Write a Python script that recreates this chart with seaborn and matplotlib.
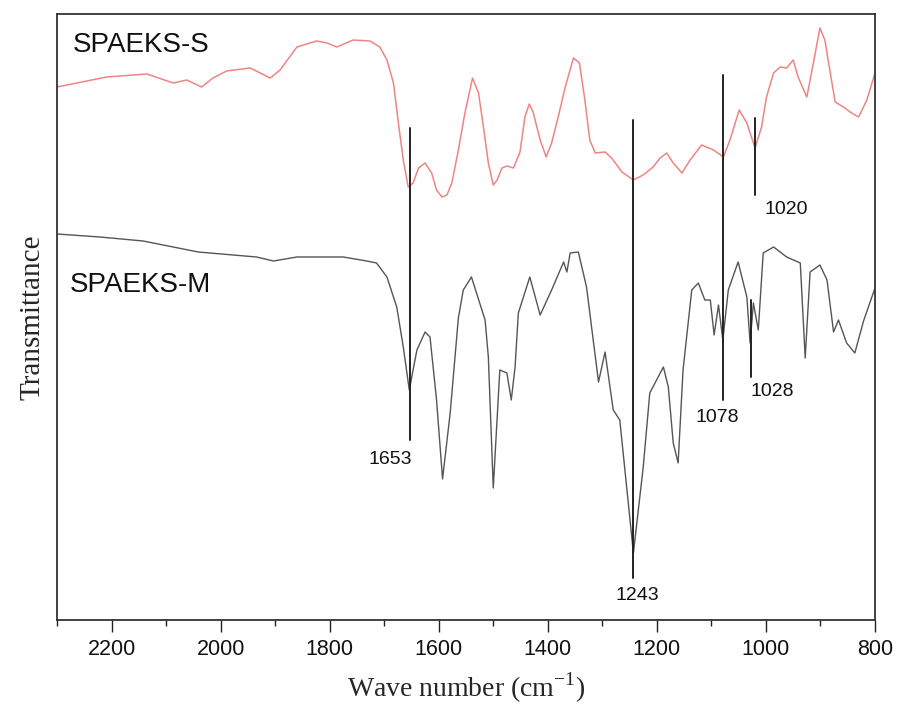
import numpy as np
import pandas as pd
import matplotlib
matplotlib.use("Agg")
import matplotlib.pyplot as plt
import seaborn as sns
from matplotlib.ticker import MultipleLocator

# ---- data (transmittance in arbitrary units) ----
s_wave = [2300, 2209, 2135, 2087, 2062, 2035, 2014, 1989, 1946, 1931, 1909, 1891,
          1860, 1824, 1805, 1787, 1757, 1726, 1708, 1695, 1683, 1674, 1665, 1656,
          1647, 1637, 1625, 1613, 1604, 1594, 1585, 1576, 1564, 1552, 1538, 1527,
          1518, 1509, 1500, 1493, 1484, 1475, 1463, 1451, 1442, 1434, 1427, 1414,
          1403, 1393, 1381, 1368, 1353, 1342, 1332, 1323, 1313, 1295, 1283, 1264,
          1243, 1225, 1207, 1194, 1182, 1170, 1154, 1139, 1118, 1096, 1078, 1066,
          1049, 1035, 1020, 1008, 999, 986, 974, 962, 950, 941, 925, 913, 901,
          892, 882, 873, 858, 843, 830, 815, 800]
s_trans = [533, 543, 546, 537, 540, 533, 542, 549, 552, 548, 542, 550,
           573, 579, 577, 573, 580, 579, 573, 560, 537, 497, 460, 433,
           437, 452, 457, 447, 430, 423, 425, 437, 470, 507, 542, 527,
           493, 457, 435, 440, 452, 454, 452, 468, 503, 516, 508, 480,
           463, 477, 503, 533, 562, 557, 520, 480, 467, 468, 462, 448,
           440, 445, 453, 462, 467, 457, 447, 460, 475, 470, 463, 480,
           510, 497, 472, 493, 523, 547, 553, 552, 560, 543, 523, 557, 592,
           580, 547, 518, 513, 507, 503, 520, 547]

m_wave = [2300, 2221, 2142, 2041, 1934, 1903, 1860, 1775, 1732, 1714, 1695, 1677,
          1665, 1654, 1640, 1625, 1616, 1604, 1593, 1579, 1564, 1555, 1540, 1515,
          1509, 1500, 1488, 1475, 1467, 1460, 1454, 1433, 1414, 1393, 1371, 1365,
          1359, 1344, 1329, 1307, 1295, 1280, 1268, 1243, 1225, 1213, 1188, 1179,
          1170, 1161, 1152, 1136, 1124, 1112, 1102, 1095, 1087, 1079, 1069, 1051,
          1035, 1029, 1023, 1014, 1005, 986, 962, 937, 928, 919, 901, 888, 876,
          867, 852, 837, 821, 800]
m_trans = [386, 383, 379, 368, 363, 359, 363, 363, 359, 357, 343, 313,
           273, 230, 270, 288, 283, 220, 141, 207, 302, 330, 343, 300,
           263, 132, 250, 247, 220, 253, 307, 343, 305, 330, 358, 348,
           367, 368, 333, 238, 268, 210, 200, 67, 153, 227, 253, 233,
           177, 157, 250, 330, 337, 320, 320, 285, 315, 280, 330, 358,
           323, 277, 317, 290, 367, 373, 363, 357, 262, 348, 355, 340, 288,
           300, 277, 267, 299, 332]

series_names = ["SPAEKS-S", "SPAEKS-M"]

# peak markers: wavenumber, line top, line bottom, label text position
peak_wave = [1653, 1243, 1078, 1028, 1020]
peak_top = [492, 500, 545, 320, 502]
peak_bottom = [180, 42, 220, 243, 425]
peak_label = ["1653", "1243", "1078", "1028", "1020"]
peak_label_x = [1688, 1235, 1090, 988, 962]
peak_label_y = [160, 25, 202, 228, 411]

x_ticks = [2200, 2000, 1800, 1600, 1400, 1200, 1000, 800]

# ---- figure ----
sns.set_style("white")
plt.rcParams["font.family"] = ["Liberation Sans", "DejaVu Sans"]

fig = plt.figure(figsize=(8.99, 7.18), dpi=100)
ax = fig.add_axes([57 / 899, 1 - 620 / 718, 818 / 899, 606 / 718])

df_s = pd.DataFrame({"wave": s_wave, "T": s_trans})
df_m = pd.DataFrame({"wave": m_wave, "T": m_trans})
sns.lineplot(data=df_s, x="wave", y="T", ax=ax, color="#ee8585", linewidth=1.1,
             sort=False, estimator=None, solid_joinstyle="round")
sns.lineplot(data=df_m, x="wave", y="T", ax=ax, color="#555555", linewidth=1.0,
             sort=False, estimator=None)

for w, t, b in zip(peak_wave, peak_top, peak_bottom):
    ax.plot([w, w], [b, t], color="#222222", linewidth=1.4)
for txt, lx, ly in zip(peak_label, peak_label_x, peak_label_y):
    ax.text(lx, ly, txt, fontsize=14, ha="center", va="center", color="#111111")

ax.text(2272, 575, series_names[0], fontsize=20, ha="left", va="center", color="#111111")
ax.text(2276, 335, series_names[1], fontsize=20, ha="left", va="center", color="#111111")

ax.set_xlim(2300, 800)
ax.set_ylim(0, 606)
ax.set_xticks(x_ticks)
ax.set_xticklabels([str(t) for t in x_ticks])
ax.xaxis.set_minor_locator(MultipleLocator(100))
ax.set_yticks([])
ax.tick_params(axis="x", which="major", direction="out", length=8.5, width=1.0,
               labelsize=15.5, pad=5, colors="#222222", labelcolor="#111111",
               bottom=True)
ax.tick_params(axis="x", which="minor", direction="out", length=4.3, width=1.0,
               colors="#222222", bottom=True)

for sp in ax.spines.values():
    sp.set_visible(True)
    sp.set_color("#333333")
    sp.set_linewidth(1.3)

ax.set_xlabel("Wave number (cm$^{\\mathregular{-1}}$)", fontsize=20,
              family=["Liberation Serif", "DejaVu Serif"], labelpad=8)
ax.set_ylabel("Transmittance", fontsize=21,
              family=["Liberation Serif", "DejaVu Serif"], labelpad=8)

fig.savefig("out.png", dpi=100)
